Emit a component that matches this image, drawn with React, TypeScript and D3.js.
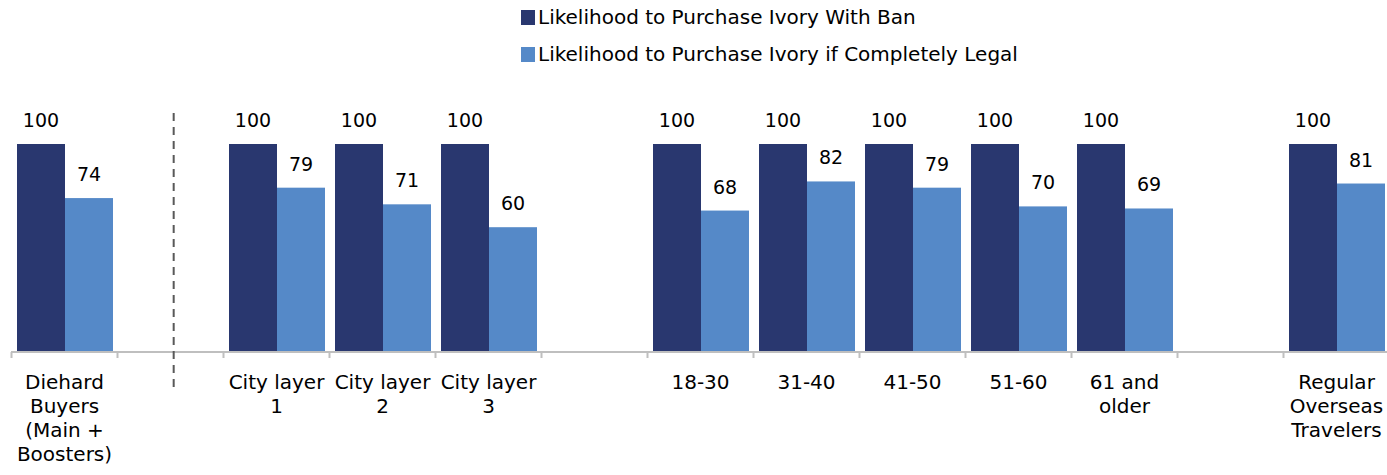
import React from "react";
import * as d3 from "d3";

const categories: string[][] = [
  ["Diehard", "Buyers", "(Main +", "Boosters)"],
  [],
  ["City layer", "1"],
  ["City layer", "2"],
  ["City layer", "3"],
  [],
  ["18-30"],
  ["31-40"],
  ["41-50"],
  ["51-60"],
  ["61 and", "older"],
  [],
  ["Regular", "Overseas", "Travelers"],
];
const withBan: (number | null)[] = [100, null, 100, 100, 100, null, 100, 100, 100, 100, 100, null, 100];
const ifLegal: (number | null)[] = [74, null, 79, 71, 60, null, 68, 82, 79, 70, 69, null, 81];
const seriesNames = ["Likelihood to Purchase Ivory With Ban", "Likelihood to Purchase Ivory if Completely Legal"];
const colors = ["#29376F", "#5589C8"];

const W = 1387;
const H = 475;
const FONT = "'DejaVu Sans', Verdana, sans-serif";

export default function App() {
  const idx = categories.map((_, i) => String(i));
  const x = d3.scaleBand<string>().domain(idx).range([11.5, 11.5 + 13 * 106]).padding(0);
  const bw = x.bandwidth();
  const inner = d3.scaleBand<string>().domain(["a", "b"]).range([5.5, bw - 4.5]).padding(0);
  const y = d3.scaleLinear().domain([0, 100]).range([352, 144]);
  const series = [withBan, ifLegal];
  const keys = ["a", "b"];

  return (
    <svg width={W} height={H} style={{ display: "block", position: "absolute", left: 0, top: 0 }}>
      <rect width={W} height={H} fill="#fff" />
      {/* legend */}
      {seriesNames.map((n, i) => (
        <g key={n} transform={`translate(521, ${10 + i * 37})`}>
          <rect x={0} y={0} width={14} height={15} fill={colors[i]} />
          <text x={17} y={13.5} fontFamily={FONT} fontSize={20} fill="#000">{n}</text>
        </g>
      ))}
      {/* bars */}
      {series.map((vals, s) =>
        vals.map((v, i) =>
          v == null ? null : (
            <g key={`${s}-${i}`}>
              <rect
                x={(x(String(i)) as number) + (inner(keys[s]) as number)}
                y={y(v)}
                width={inner.bandwidth()}
                height={y(0) - y(v)}
                fill={colors[s]}
              />
              <text
                x={(x(String(i)) as number) + (inner(keys[s]) as number) + inner.bandwidth() / 2}
                y={y(v) - 17}
                textAnchor="middle"
                fontFamily={FONT}
                fontSize={19}
                fill="#000"
              >
                {v}
              </text>
            </g>
          )
        )
      )}
      {/* axis */}
      <line x1={11} x2={W} y1={352} y2={352} stroke="#BFBFBF" strokeWidth={2} />
      {d3.range(14).map((i) => {
        const tx = 11.5 + i * x.step();
        return <line key={i} x1={tx} x2={tx} y1={352} y2={358} stroke="#BFBFBF" strokeWidth={2} />;
      })}
      {/* dashed separator */}
      <line
        x1={(x("1") as number) + bw * 0.53}
        x2={(x("1") as number) + bw * 0.53}
        y1={113}
        y2={388}
        stroke="#595959"
        strokeWidth={2}
        strokeDasharray="8,6"
      />
      {/* category labels */}
      {categories.map((lines, i) => (
        <text
          key={i}
          x={(x(String(i)) as number) + bw / 2}
          textAnchor="middle"
          fontFamily={FONT}
          fontSize={20}
          fill="#000"
        >
          {lines.map((l, j) => (
            <tspan key={j} x={(x(String(i)) as number) + bw / 2} y={389 + j * 24}>
              {l}
            </tspan>
          ))}
        </text>
      ))}
    </svg>
  );
}
